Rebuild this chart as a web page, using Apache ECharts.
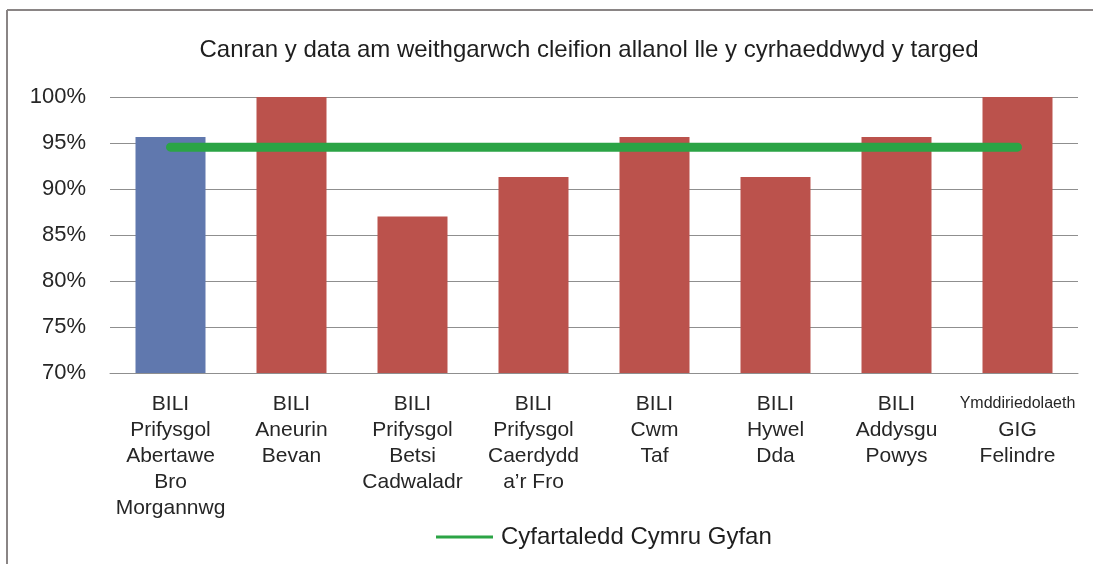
<!DOCTYPE html>
<html>
<head>
<meta charset="utf-8">
<script src="https://cdn.jsdelivr.net/npm/echarts@6/dist/echarts.min.js"></script>
<style>html,body{margin:0;padding:0;background:#fff}#c{width:1093px;height:564px}</style>
</head>
<body>
<div id="c"></div>
<script>
var titleText = 'Canran y data am weithgarwch cleifion allanol lle y cyrhaeddwyd y targed';
var categories = [
  'BILI\nPrifysgol\nAbertawe\nBro\nMorgannwg',
  'BILI\nAneurin\nBevan',
  'BILI\nPrifysgol\nBetsi\nCadwaladr',
  'BILI\nPrifysgol\nCaerdydd\na\u2019r Fro',
  'BILI\nCwm\nTaf',
  'BILI\nHywel\nDda',
  'BILI\nAddysgu\nPowys',
  'Ymddiriedolaeth\nGIG\nFelindre'
];
var barValues = [95.65, 100, 87.0, 91.3, 95.65, 91.3, 95.65, 100];
var averageName = 'Cyfartaledd Cymru Gyfan';
var averageValue = 94.55;
var averageValues = categories.map(function(){ return averageValue; });
var highlightIndex = 0;
var yMin = 70, yMax = 100, yStep = 5;

var chart = echarts.init(document.getElementById('c'), null, {renderer: 'canvas'});
var font = '"Liberation Sans", Arial, sans-serif';
chart.setOption({
  animation: false,
  backgroundColor: '#ffffff',
  title: {
    text: titleText,
    left: 584, textAlign: 'center', top: 33,
    textStyle: {fontFamily: font, fontSize: 24, fontWeight: 'normal', color: '#1e1e1e'}
  },
  legend: {
    data: [{name: averageName, icon: 'rect'}],
    left: 431, top: 520,
    itemWidth: 57, itemHeight: 3,
    itemGap: 10,
    textStyle: {fontFamily: font, fontSize: 24, color: '#1e1e1e', padding: [0, 0, 0, 3]}
  },
  grid: {left: 110, right: 15, top: 97, bottom: 191, containLabel: false},
  xAxis: {
    type: 'category',
    data: categories,
    axisTick: {show: false},
    axisLine: {lineStyle: {color: '#8f8f8f', width: 1}},
    axisLabel: {
      interval: 0, margin: 18,
      fontFamily: font, fontSize: 21, lineHeight: 26, color: '#262626',
      formatter: function (v) {
        if (v.indexOf('Ymddiriedolaeth') === 0) {
          var parts = v.split('\n');
          return '{s|' + parts[0] + '}\n' + parts.slice(1).join('\n');
        }
        return v;
      },
      rich: {s: {fontFamily: font, fontSize: 16, lineHeight: 26, color: '#262626'}}
    }
  },
  yAxis: {
    type: 'value', min: yMin, max: yMax, interval: yStep,
    axisLine: {show: false}, axisTick: {show: false},
    splitLine: {lineStyle: {color: '#8f8f8f', width: 1}},
    axisLabel: {
      margin: 24, fontFamily: font, fontSize: 22, color: '#262626',
      formatter: function (v) { return v + '%'; }
    }
  },
  series: [
    {
      type: 'bar', name: 'bars',
      data: barValues,
      barWidth: 70,
      itemStyle: {
        color: function (p) { return p.dataIndex === highlightIndex ? '#6078ae' : '#bb524c'; }
      }
    },
    {
      type: 'line', name: averageName,
      data: averageValues,
      symbol: 'none',
      lineStyle: {color: '#2ba445', width: 9, cap: 'round'},
      itemStyle: {color: '#2ba445'},
      z: 5
    }
  ],
  graphic: [
    {type: 'line', shape: {x1: 7, y1: 10, x2: 1093, y2: 10}, style: {stroke: '#8a8585', lineWidth: 2}},
    {type: 'line', shape: {x1: 7, y1: 10, x2: 7, y2: 564}, style: {stroke: '#8a8585', lineWidth: 2}}
  ]
});
</script>
</body>
</html>
